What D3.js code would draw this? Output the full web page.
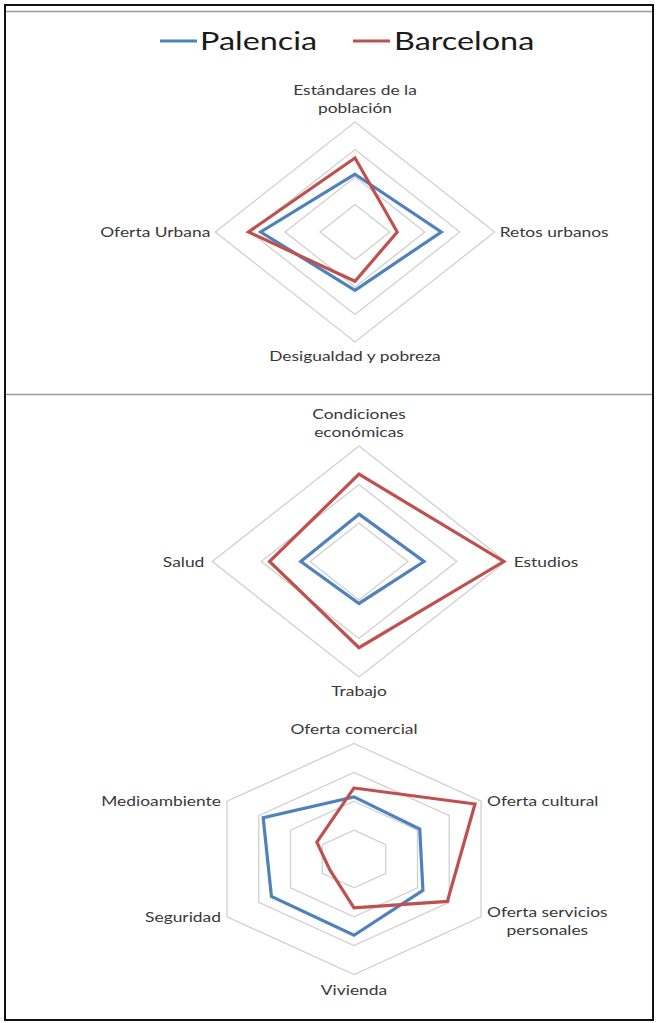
<!DOCTYPE html>
<html>
<head>
<meta charset="utf-8">
<script src="https://cdn.jsdelivr.net/npm/d3@7"></script>
<style>
  html, body { margin: 0; padding: 0; background: #fff; }
  svg { display: block; }
  text { font-family: Lato, "Open Sans", sans-serif; }
</style>
</head>
<body>
<svg id="chart" width="658" height="1023"></svg>
<script>
// Series
const seriesNames = ["Palencia", "Barcelona"];
const seriesColors = ["#4F81BD", "#C0504D"];

// Panel 1
const axes1 = ["Estándares de la población", "Retos urbanos", "Desigualdad y pobreza", "Oferta Urbana"];
const palencia1 = [2.10, 2.47, 2.12, 2.70];
const barcelona1 = [2.69, 1.21, 1.79, 3.05];
const rings1 = [1, 2, 3, 4];

// Panel 2
const axes2 = ["Condiciones económicas", "Estudios", "Trabajo", "Salud"];
const palencia2 = [1.23, 1.33, 1.09, 1.19];
const barcelona2 = [2.27, 2.96, 2.24, 1.83];
const rings2 = [1, 2, 3];

// Panel 3
const axes3 = ["Oferta comercial", "Oferta cultural", "Oferta servicios personales", "Vivienda", "Seguridad", "Medioambiente"];
const palencia3 = [2.15, 2.07, 2.17, 2.64, 2.60, 2.86];
const barcelona3 = [2.46, 3.81, 2.94, 1.69, 0.76, 1.17];
const rings3 = [1, 2, 3, 4];

const svg = d3.select("#chart");
const STRETCH = 1.27;   // horizontal scale applied to the whole figure
const labelColor = "#383838";

// frame
svg.append("rect").attr("x", 5).attr("y", 5).attr("width", 648).attr("height", 1015)
  .attr("fill", "#fff").attr("stroke", "#111").attr("stroke-width", 2);
svg.append("line").attr("x1", 6).attr("x2", 652).attr("y1", 11.5).attr("y2", 11.5)
  .attr("stroke", "#9a9a9a").attr("stroke-width", 1.5);
svg.append("line").attr("x1", 6).attr("x2", 652).attr("y1", 394.5).attr("y2", 394.5)
  .attr("stroke", "#9a9a9a").attr("stroke-width", 1.5);

// legend
const legend = svg.append("g");
const legendItems = [{x: 160, tx: 200}, {x: 353, tx: 394}];
seriesNames.forEach((name, i) => {
  const it = legendItems[i];
  legend.append("line").attr("x1", it.x).attr("x2", it.x + 37).attr("y1", 41).attr("y2", 41)
    .attr("stroke", seriesColors[i]).attr("stroke-width", 3);
  legend.append("text")
    .attr("transform", `translate(${it.tx},49.5) scale(${STRETCH},1)`)
    .attr("font-size", 25.5).attr("fill", "#1a1a1a").text(name);
});

// multi-line label block; lines are centred within the block
function label(g, lines, x, y, anchor, lineH) {
  const grp = g.append("g");
  const nodes = lines.map((t, i) => grp.append("text")
    .attr("font-size", 13.7).attr("fill", labelColor)
    .attr("text-anchor", "middle").attr("dominant-baseline", "central")
    .text(t));
  const widths = nodes.map(n => n.node().getComputedTextLength() * STRETCH);
  const w = d3.max(widths);
  const totalH = lineH * (lines.length - 1);
  let cx = x;
  if (anchor === "start") cx = x + w / 2;
  if (anchor === "end") cx = x - w / 2;
  nodes.forEach((n, i) => {
    n.attr("transform", `translate(${cx},${y - totalH / 2 + i * lineH}) scale(${STRETCH},1)`);
  });
}

function radar(cfg) {
  const {cx, cy, ry, max, axes, rings, values, labelLines, gap} = cfg;
  const rx = ry * STRETCH;
  const n = axes.length;
  const angle = d3.scaleLinear().domain([0, n]).range([0, 2 * Math.PI]);
  const rScaleY = d3.scaleLinear().domain([0, max]).range([0, ry]);
  const rScaleX = d3.scaleLinear().domain([0, max]).range([0, rx]);
  const pt = (v, i) => [cx + rScaleX(v) * Math.sin(angle(i)), cy - rScaleY(v) * Math.cos(angle(i))];
  const g = svg.append("g");
  const line = d3.line().curve(d3.curveLinearClosed);

  // grid rings
  g.selectAll("path.ring").data(rings).join("path")
    .attr("class", "ring")
    .attr("d", r => line(d3.range(n).map(i => pt(r, i))))
    .attr("fill", "none").attr("stroke", "#d0d0d0").attr("stroke-width", 1.3);

  // series
  values.forEach((vals, s) => {
    g.append("path")
      .attr("d", line(vals.map((v, i) => pt(v, i))))
      .attr("fill", "none").attr("stroke", seriesColors[s])
      .attr("stroke-width", 3.2).attr("stroke-linejoin", "miter");
  });

  // axis labels
  axes.forEach((a, i) => {
    const [vx, vy] = pt(max, i);
    const s = Math.sin(angle(i));
    const c = Math.cos(angle(i));
    const lines = labelLines[i];
    const lh = 18.5;
    let anchor = "middle", x = vx, y = vy;
    if (Math.abs(s) < 1e-6) {
      const off = gap.v + lh * (lines.length - 1) / 2;
      y = c > 0 ? vy - off : vy + off;
    } else {
      anchor = s > 0 ? "start" : "end";
      x = s > 0 ? vx + gap.h : vx - gap.h;
      y = vy + (lines.length > 1 ? 4 : 0);
    }
    label(g, lines, x, y, anchor, lh);
  });
}

radar({
  cx: 355, cy: 232, ry: 110, max: 4, axes: axes1, rings: rings1,
  values: [palencia1, barcelona1],
  labelLines: [["Estándares de la", "población"], ["Retos urbanos"], ["Desigualdad y pobreza"], ["Oferta Urbana"]],
  gap: {v: 14, h: 5}
});

radar({
  cx: 359, cy: 561.5, ry: 115.5, max: 3, axes: axes2, rings: rings2,
  values: [palencia2, barcelona2],
  labelLines: [["Condiciones", "económicas"], ["Estudios"], ["Trabajo"], ["Salud"]],
  gap: {v: 14, h: 8}
});

radar({
  cx: 354, cy: 859, ry: 115.5, max: 4, axes: axes3, rings: rings3,
  values: [palencia3, barcelona3],
  labelLines: [["Oferta comercial"], ["Oferta cultural"], ["Oferta servicios", "personales"], ["Vivienda"], ["Seguridad"], ["Medioambiente"]],
  gap: {v: 15, h: 6}
});
</script>
</body>
</html>
